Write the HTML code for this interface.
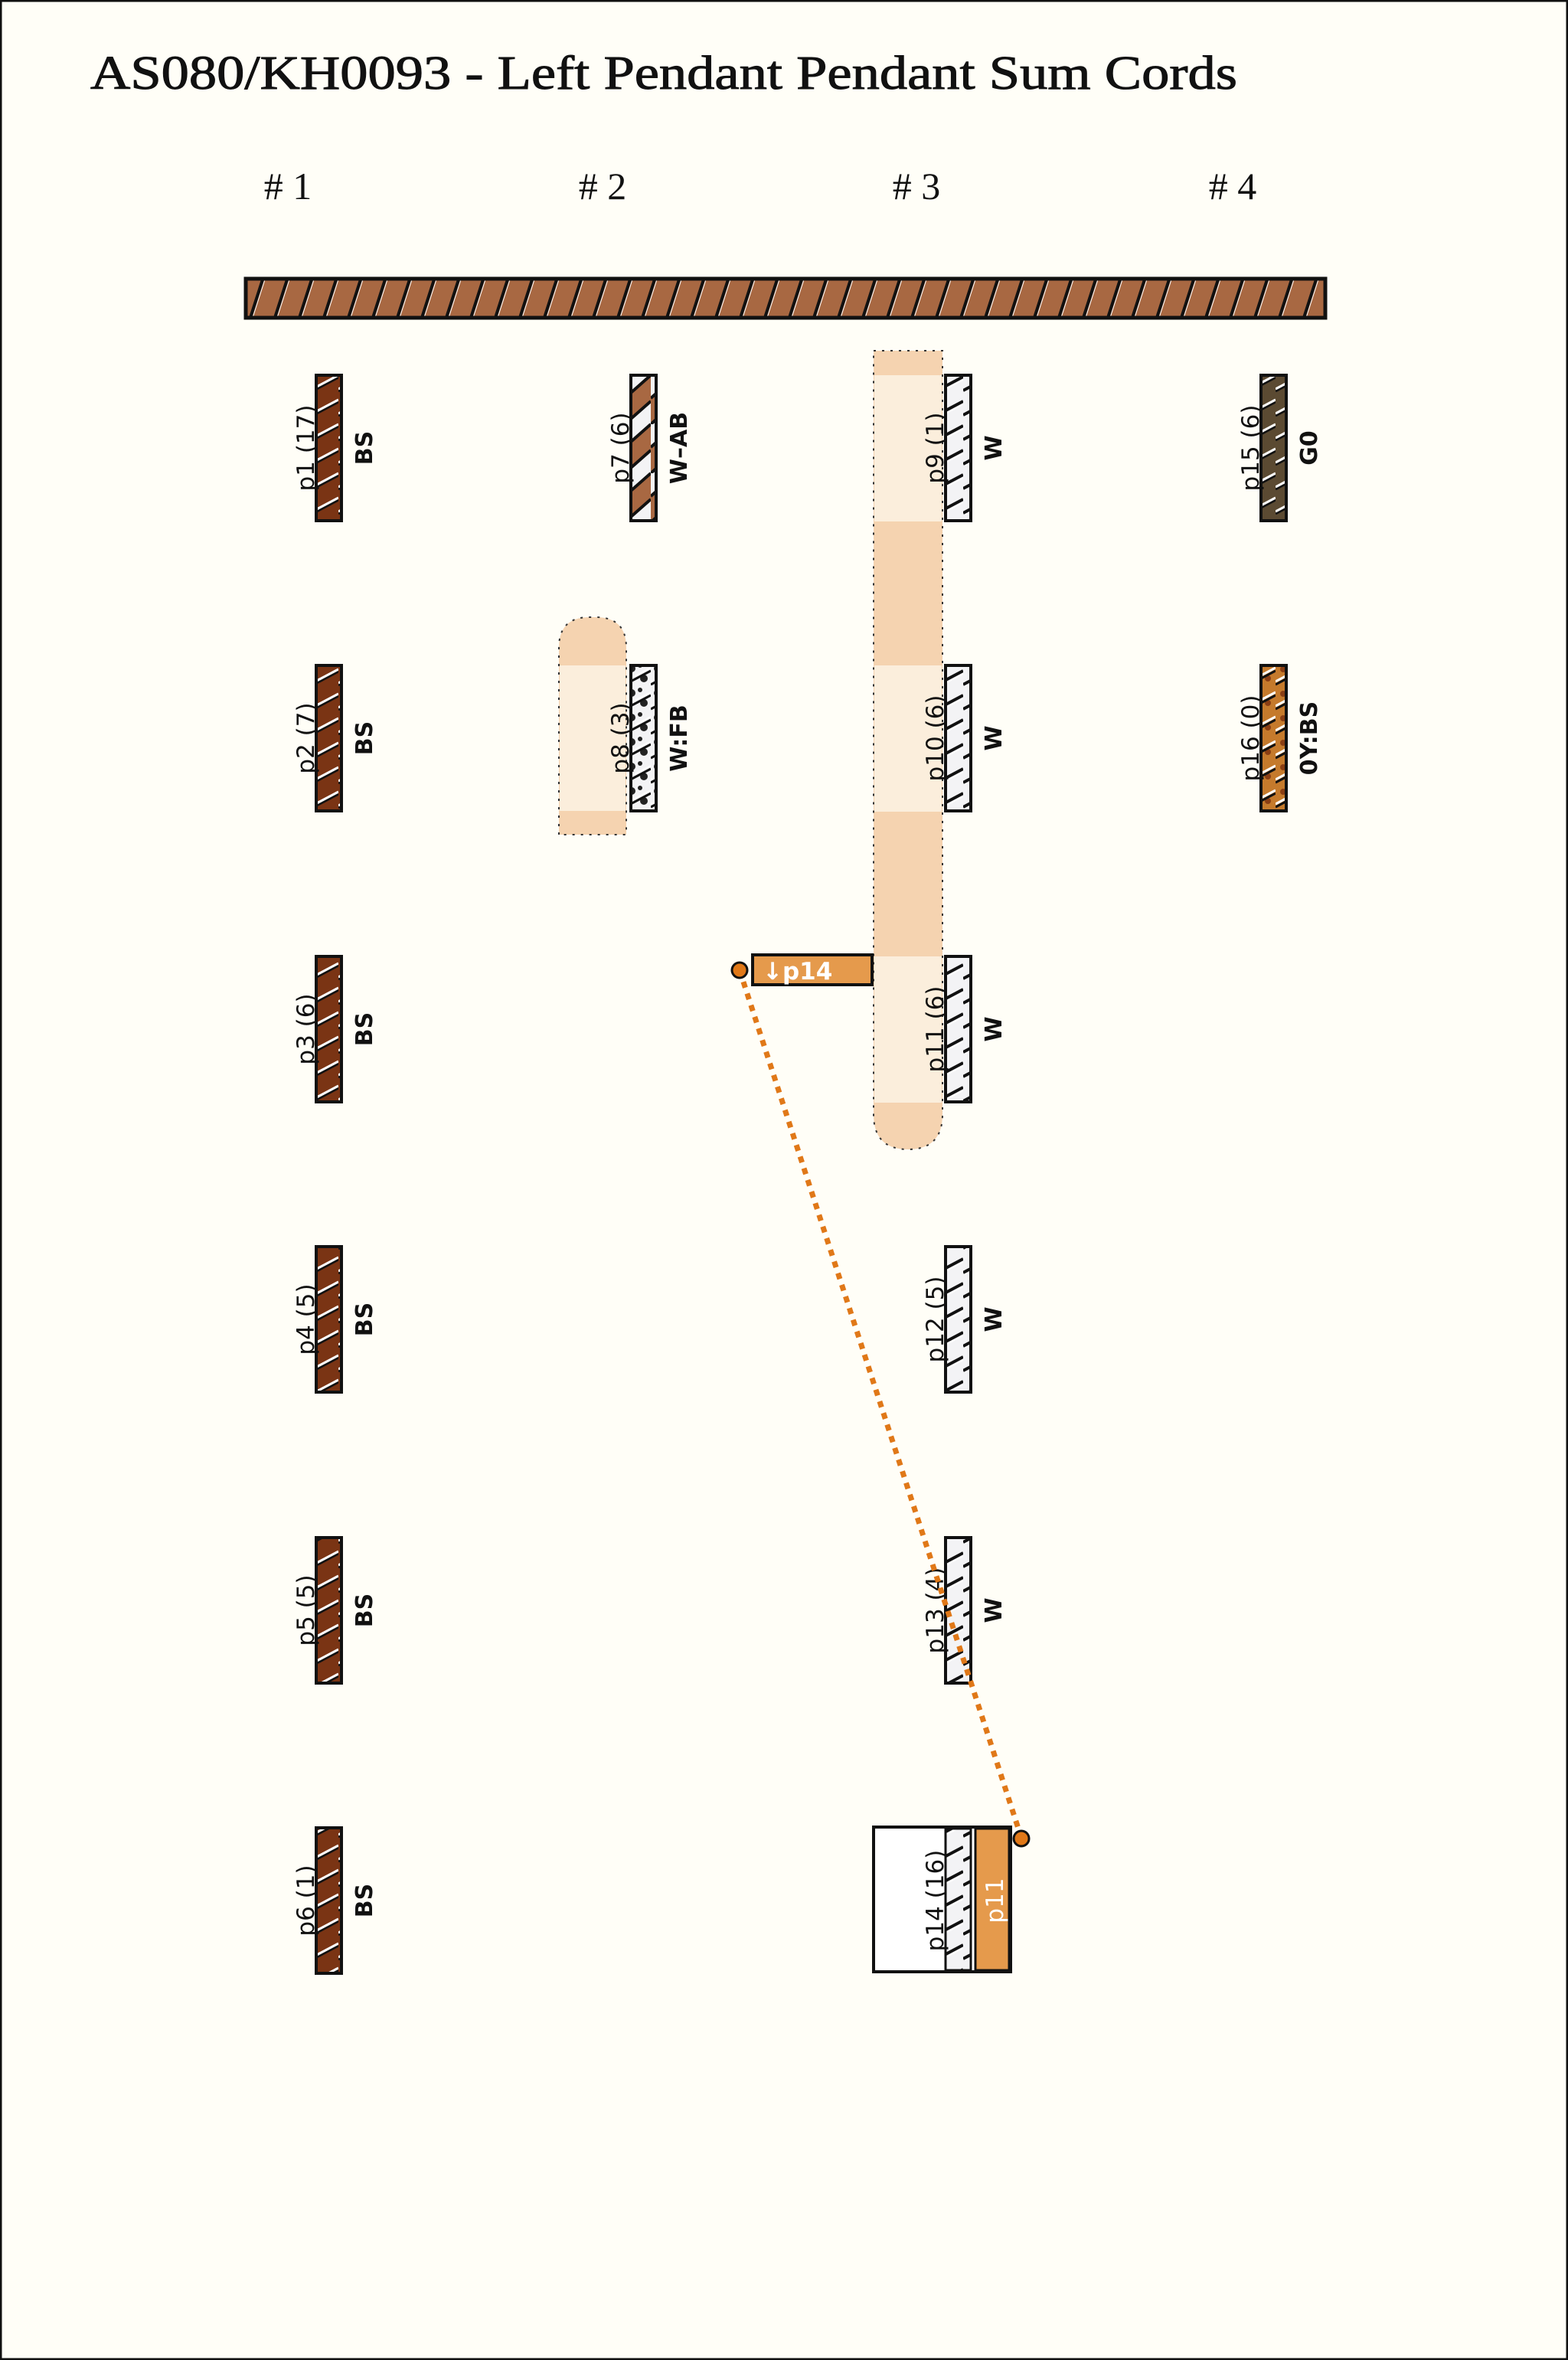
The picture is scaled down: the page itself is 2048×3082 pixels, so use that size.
<!DOCTYPE html>
<html><head><meta charset="utf-8"><style>
html,body{margin:0;padding:0;background:#fffef7;}
svg{display:block;}
.lab{font-family:"DejaVu Sans","Liberation Sans",sans-serif;font-size:31px;fill:#111;}
.col{font-family:"DejaVu Sans","Liberation Sans",sans-serif;font-size:30px;font-weight:bold;fill:#111;}
</style></head><body>
<svg width="2048" height="3082" viewBox="0 0 2048 3082" xmlns="http://www.w3.org/2000/svg">
<defs>
<pattern id="main" width="32" height="52" patternUnits="userSpaceOnUse" x="320" y="364">
<rect width="32" height="52" fill="#a86842"/>
<line x1="6" y1="54" x2="24" y2="-2" stroke="#111" stroke-width="4"/>
<line x1="9" y1="54" x2="27" y2="-2" stroke="#fff" stroke-width="1"/>
</pattern>
<pattern id="bs" width="34" height="32" patternUnits="userSpaceOnUse">
<rect width="34" height="32" fill="#7a3414"/>
<line x1="0" y1="31" x2="34" y2="13" stroke="#111" stroke-width="3"/>
<line x1="0" y1="28" x2="34" y2="10" stroke="#fff" stroke-width="3"/>
</pattern>
<pattern id="g0" width="34" height="32" patternUnits="userSpaceOnUse">
<rect width="34" height="32" fill="#5b4a32"/>
<line x1="0" y1="31" x2="34" y2="13" stroke="#111" stroke-width="3"/>
<line x1="0" y1="28" x2="34" y2="10" stroke="#fff" stroke-width="3"/>
</pattern>
<pattern id="w" width="34" height="32" patternUnits="userSpaceOnUse">
<rect width="34" height="32" fill="#f3f3f5"/>
<line x1="0" y1="30" x2="34" y2="12" stroke="#111" stroke-width="4"/>
<line x1="0" y1="34" x2="34" y2="16" stroke="#fff" stroke-width="2"/>
</pattern>
<pattern id="oy" width="34" height="32" patternUnits="userSpaceOnUse">
<rect width="34" height="32" fill="#c57a2c"/>
<circle cx="10" cy="10" r="4" fill="#8a3e14"/><circle cx="24" cy="22" r="4" fill="#8a3e14"/>
<line x1="0" y1="30" x2="34" y2="12" stroke="#111" stroke-width="3"/>
<line x1="0" y1="26" x2="34" y2="8" stroke="#fff" stroke-width="3"/>
</pattern>
<pattern id="fb" width="34" height="32" patternUnits="userSpaceOnUse">
<rect width="34" height="32" fill="#f3f3f5"/>
<circle cx="9" cy="9" r="5" fill="#222"/><circle cx="25" cy="22" r="5" fill="#222"/><circle cx="20" cy="5" r="3" fill="#222"/>
<line x1="0" y1="30" x2="34" y2="12" stroke="#111" stroke-width="3"/>
<line x1="0" y1="26" x2="34" y2="8" stroke="#fff" stroke-width="2"/>
</pattern>
<pattern id="ab" width="34" height="64" patternUnits="userSpaceOnUse" y="490">
<rect width="34" height="64" fill="#f3f3f5"/>
<polygon points="0,30 34,0 34,34 0,64" fill="#a86842"/>
<line x1="0" y1="30" x2="34" y2="0" stroke="#111" stroke-width="4"/>
<line x1="0" y1="64" x2="34" y2="34" stroke="#111" stroke-width="4"/>
<line x1="0" y1="94" x2="34" y2="64" stroke="#111" stroke-width="4"/>
</pattern>
</defs>
<rect x="1" y="1" width="2046" height="3080" fill="#fffef7" stroke="#111" stroke-width="3"/>
<text x="118" y="116" font-family="Liberation Serif, serif" font-size="62" textLength="1498" lengthAdjust="spacingAndGlyphs" fill="#111" stroke="#111" stroke-width="1">AS080/KH0093 - Left Pendant Pendant Sum Cords</text>
<g font-family="Liberation Serif, serif" font-size="50" fill="#111" text-anchor="middle">
<text x="376" y="260">#  1</text><text x="787" y="260">#  2</text><text x="1197" y="260">#  3</text><text x="1610" y="260">#  4</text>
</g>
<rect x="321" y="364" width="1410" height="51" fill="url(#main)" stroke="#111" stroke-width="5"/>

<path d="M730,1090 L730,846 Q730,806 770,806 L778,806 Q818,806 818,846 L818,1090 Z" fill="#f5d3b0" stroke="#333" stroke-width="2" stroke-dasharray="3,8"/>
<rect x="731" y="869" width="86" height="190" fill="#fbeedc"/>
<path d="M1141,458 L1231,458 L1231,1455 Q1231,1501 1186,1501 Q1141,1501 1141,1455 Z" fill="#f5d3b0" stroke="#333" stroke-width="2" stroke-dasharray="3,8"/>
<rect x="1142" y="490" width="88" height="191" fill="#fbeedc"/>
<rect x="1142" y="869" width="88" height="191" fill="#fbeedc"/>
<rect x="1142" y="1249" width="88" height="191" fill="#fbeedc"/>

<g stroke="#111" stroke-width="4">
<rect x="413" y="490" width="33" height="190" fill="url(#bs)"/>
<rect x="413" y="869" width="33" height="190" fill="url(#bs)"/>
<rect x="413" y="1249" width="33" height="190" fill="url(#bs)"/>
<rect x="413" y="1628" width="33" height="190" fill="url(#bs)"/>
<rect x="413" y="2008" width="33" height="190" fill="url(#bs)"/>
<rect x="413" y="2387" width="33" height="190" fill="url(#bs)"/>
<rect x="824" y="490" width="33" height="190" fill="url(#ab)"/>
<rect x="824" y="869" width="33" height="190" fill="url(#fb)"/>
<rect x="1235" y="490" width="33" height="190" fill="url(#w)"/>
<rect x="1235" y="869" width="33" height="190" fill="url(#w)"/>
<rect x="1235" y="1249" width="33" height="190" fill="url(#w)"/>
<rect x="1235" y="1628" width="33" height="190" fill="url(#w)"/>
<rect x="1235" y="2008" width="33" height="190" fill="url(#w)"/>
<rect x="1647" y="490" width="33" height="190" fill="url(#g0)"/>
<rect x="1647" y="869" width="33" height="190" fill="url(#oy)"/>
</g>

<g class="lab" text-anchor="middle">
<text transform="translate(410,585) rotate(-90)">p1 (17)</text>
<text transform="translate(410,964) rotate(-90)">p2 (7)</text>
<text transform="translate(410,1344) rotate(-90)">p3 (6)</text>
<text transform="translate(410,1723) rotate(-90)">p4 (5)</text>
<text transform="translate(410,2103) rotate(-90)">p5 (5)</text>
<text transform="translate(410,2482) rotate(-90)">p6 (1)</text>
<text transform="translate(821,585) rotate(-90)">p7 (6)</text>
<text transform="translate(821,964) rotate(-90)">p8 (3)</text>
<text transform="translate(1232,585) rotate(-90)">p9 (1)</text>
<text transform="translate(1232,964) rotate(-90)">p10 (6)</text>
<text transform="translate(1232,1344) rotate(-90)">p11 (6)</text>
<text transform="translate(1232,1723) rotate(-90)">p12 (5)</text>
<text transform="translate(1232,2103) rotate(-90)">p13 (4)</text>
<text transform="translate(1644,585) rotate(-90)">p15 (6)</text>
<text transform="translate(1644,964) rotate(-90)">p16 (0)</text>
<text transform="translate(1232,2482) rotate(-90)">p14 (16)</text>
</g>
<g class="col" text-anchor="middle">
<text transform="translate(486,585) rotate(-90)">BS</text>
<text transform="translate(486,964) rotate(-90)">BS</text>
<text transform="translate(486,1344) rotate(-90)">BS</text>
<text transform="translate(486,1723) rotate(-90)">BS</text>
<text transform="translate(486,2103) rotate(-90)">BS</text>
<text transform="translate(486,2482) rotate(-90)">BS</text>
<text transform="translate(897,585) rotate(-90)">W–AB</text>
<text transform="translate(897,964) rotate(-90)">W:FB</text>
<text transform="translate(1308,585) rotate(-90)">W</text>
<text transform="translate(1308,964) rotate(-90)">W</text>
<text transform="translate(1308,1344) rotate(-90)">W</text>
<text transform="translate(1308,1723) rotate(-90)">W</text>
<text transform="translate(1308,2103) rotate(-90)">W</text>
<text transform="translate(1720,585) rotate(-90)">G0</text>
<text transform="translate(1720,964) rotate(-90)">0Y:BS</text>
</g>

<rect x="1141" y="2386" width="179" height="189" fill="#fff" stroke="#111" stroke-width="4"/>
<rect x="1235" y="2388" width="33" height="185" fill="url(#w)" stroke="#111" stroke-width="3"/>
<rect x="1274" y="2388" width="44" height="185" fill="#e59a4c" stroke="#111" stroke-width="3"/>
<text class="lab" transform="translate(1232,2482) rotate(-90)" text-anchor="middle" fill="#111">p14 (16)</text>
<text transform="translate(1310,2482) rotate(-90)" text-anchor="middle" font-family="DejaVu Sans, sans-serif" font-size="31" fill="#fff">p11</text>

<line x1="966" y1="1267" x2="1334" y2="2400" stroke="#e07818" stroke-width="7" stroke-dasharray="8,8"/>
<rect x="983" y="1247" width="156" height="39" fill="#e59a4c" stroke="#111" stroke-width="4"/>
<text x="996" y="1279" font-family="DejaVu Sans, sans-serif" font-size="31" font-weight="bold" fill="#fff">↓p14</text>
<circle cx="966" cy="1267" r="10" fill="#e07818" stroke="#111" stroke-width="3"/>
<circle cx="1334" cy="2401" r="10" fill="#e07818" stroke="#111" stroke-width="3"/>
</svg>
</body></html>
